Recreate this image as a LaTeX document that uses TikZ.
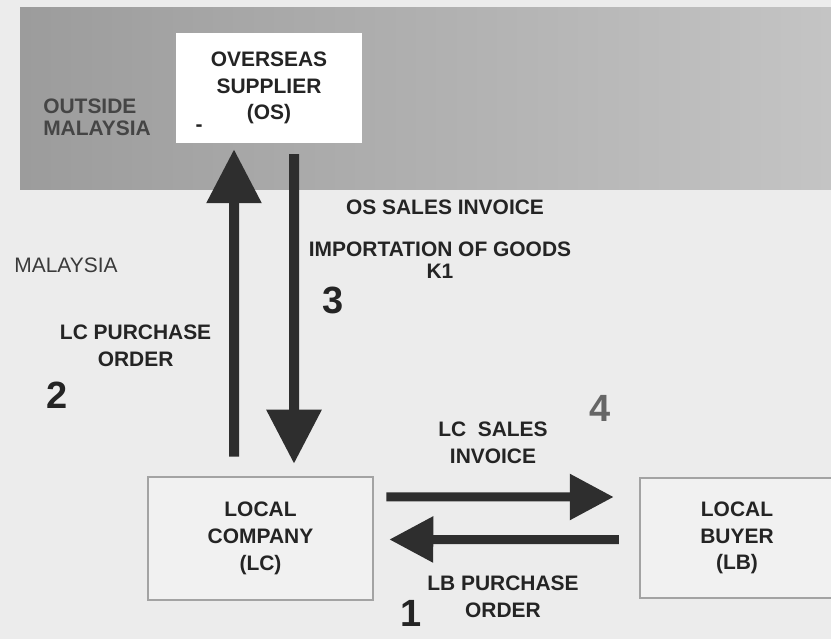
\documentclass[tikz,border=0pt]{standalone}
\usepackage{fontspec}
\setmainfont{Liberation Sans}
\usepackage{xcolor}
\usepackage{tikz}
\definecolor{gstPaper}{HTML}{ECECEC}
\definecolor{gstBandL}{HTML}{9C9C9C}
\definecolor{gstBandR}{HTML}{C4C4C4}
\definecolor{gstInk}{HTML}{242424}
\definecolor{gstArrow}{HTML}{2E2E2E}
\definecolor{gstFrame}{HTML}{A3A3A3}
\definecolor{gstBox}{HTML}{F1F1F1}
\usetikzlibrary{arrows.meta}

\begin{document}
\begin{tikzpicture}[
  font=\fontsize{14.9}{19}\selectfont\bfseries,
  party/.style={draw=gstFrame, line width=0.0625cm, fill=gstBox, align=center, text=gstInk},
  tag/.style={align=center, text=gstInk, inner sep=0pt},
  stepno/.style={text=gstInk, inner sep=0pt, font=\fontsize{27}{30}\selectfont\bfseries},
  vflow/.style={line width=0.25cm, draw=gstArrow, -{Triangle[length=1.35cm,width=1.32cm]}},
  hflow/.style={line width=0.225cm, draw=gstArrow, -{Triangle[length=1.1cm,width=1.1cm]}}
]

% Paper and outside region
\fill[gstPaper] (0,0) rectangle (20.775,-15.975);
\useasboundingbox (0,0) rectangle (20.775,-15.975);
\shade[left color=gstBandL, right color=gstBandR] (0.5,-0.2) rectangle (20.775,-4.75);

% Parties
\node[party, draw=none, fill=white, minimum width=4.65cm, minimum height=2.75cm] (os) at (6.725,-2.2) {OVERSEAS\\SUPPLIER\\(OS)};
\node[party, minimum width=5.625cm, minimum height=3.075cm] (lc) at (6.5125,-13.4625) {LOCAL\\COMPANY\\(LC)};
\node[party, minimum width=4.85cm, minimum height=3.0cm] (lb) at (18.425,-13.45) {LOCAL\\BUYER\\(LB)};
\node[tag] (osmark) at (4.975,-3.2) {-};

% Regions
\node[tag, align=left, anchor=west, text=gstInk!85, font=\fontsize{14.9}{15.8}\selectfont\bfseries] (outside) at (1.075,-2.925) {OUTSIDE\\MALAYSIA};
\node[tag, text=gstInk!90, font=\fontsize{14.9}{18}\selectfont] (inside) at (1.65,-6.625) {MALAYSIA};

% Documents
\node[tag] (osinv) at (11.125,-5.175) {OS SALES INVOICE};
\node[tag, font=\fontsize{14.9}{15.5}\selectfont\bfseries] (import) at (11.0,-6.5) {IMPORTATION OF GOODS\\K1};
\node[tag] (lcpo) at (3.39,-8.65) {LC PURCHASE\\ORDER};
\node[tag] (lcinv) at (12.325,-11.075) {LC\ \ SALES\\INVOICE};
\node[tag] (lbpo) at (12.575,-14.925) {LB PURCHASE\\ORDER};

% Step numbers
\node[stepno, anchor=north] (s1) at (10.275,-15.0) {1};
\node[stepno] (s2) at (1.425,-9.875) {2};
\node[stepno] (s3) at (8.325,-7.5) {3};
\node[stepno, text=gstInk!70] (s4) at (15.0,-10.2) {4};

% Flows
\draw[vflow] ([xshift=-0.6625cm, yshift=0.475cm]lc.north) -- ([xshift=-0.875cm, yshift=-0.125cm]os.south);
\draw[vflow] ([xshift=0.625cm, yshift=-0.25cm]os.south) -- ([xshift=0.8375cm, yshift=0.3cm]lc.north);
\draw[hflow] ([xshift=0.3cm, yshift=1.0375cm]lc.east) -- ([xshift=-0.625cm, yshift=1.025cm]lb.west);
\draw[hflow] ([xshift=-0.5cm, yshift=-0.04cm]lb.west) -- ([xshift=0.375cm, yshift=-0.025cm]lc.east);

\end{tikzpicture}
\end{document}
